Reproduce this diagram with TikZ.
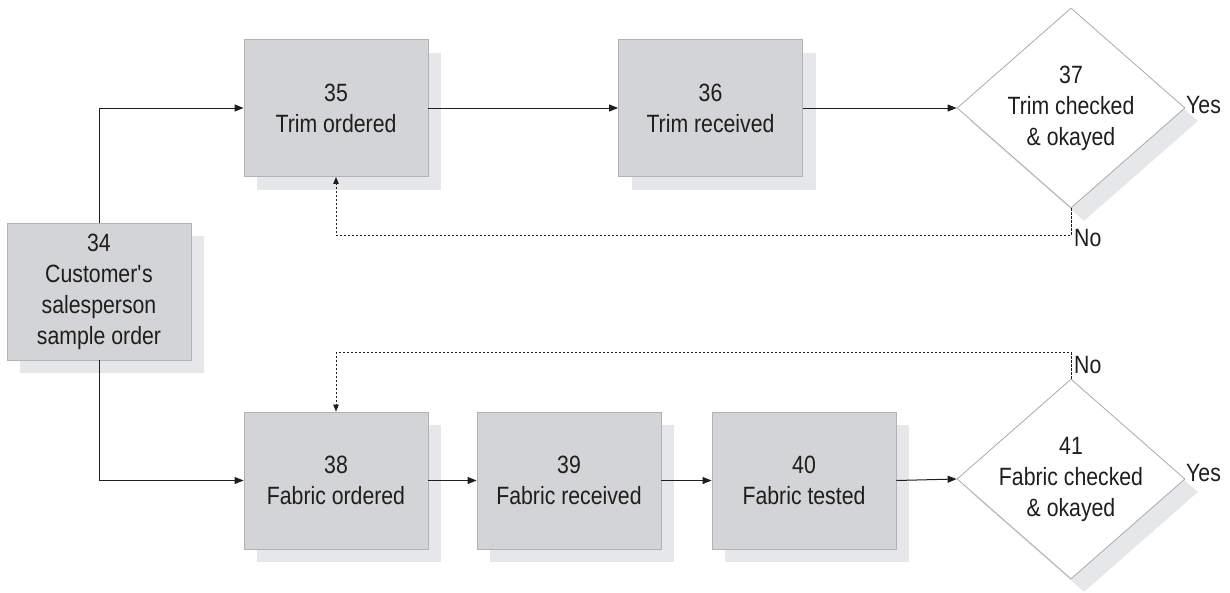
\documentclass[tikz,border=0pt]{standalone}
\usepackage{fontspec}
\setmainfont{Liberation Sans}[FakeStretch=0.85]
\usetikzlibrary{shapes.geometric,shadows,arrows.meta,calc}

\definecolor{boxfill}{RGB}{211,212,214}
\definecolor{boxedge}{RGB}{178,178,180}
\definecolor{shade}{RGB}{230,231,233}
\definecolor{diaedge}{RGB}{170,170,172}
\definecolor{ink}{RGB}{30,30,30}

\tikzset{
  stepbox/.style={rectangle, draw=boxedge, line width=0.9pt, fill=boxfill,
    minimum width=184, minimum height=137, inner sep=0pt, align=center,
    general shadow={fill=shade, shadow xshift=13pt, shadow yshift=-13pt}},
  checkbox/.style={diamond, draw=diaedge, line width=0.8pt, fill=white,
    minimum width=228, minimum height=200, inner sep=0pt,
    general shadow={fill=shade, shadow xshift=13pt, shadow yshift=-13pt}},
  checktext/.style={align=center, inner sep=0pt},
  flow/.style={draw=ink, line width=1pt, -{Triangle[length=9pt,width=7pt]}},
  loopback/.style={draw=ink, line width=0.8pt, dash pattern=on 2.5pt off 1.5pt,
    -{Triangle[length=7pt,width=5.5pt]}},
  tag/.style={inner sep=0pt, anchor=west},
}

\begin{document}
\begin{tikzpicture}[x=1pt, y=-1pt,
  every node/.append style={font=\fontsize{25}{31}\selectfont, text=ink}]
\useasboundingbox (0,0) rectangle (1230,592);

% process steps
\node[stepbox] (n34) at (99,291.5) {34\\Customer\textquotesingle s\\salesperson\\sample order};
\node[stepbox] (n35) at (336,108) {35\\Trim ordered};
\node[stepbox] (n36) at (710.5,108) {36\\Trim received};
\node[stepbox] (n38) at (336,480.5) {38\\Fabric ordered};
\node[stepbox] (n39) at (569,480.5) {39\\Fabric received};
\node[stepbox] (n40) at (804,480.5) {40\\Fabric tested};

% decisions
\node[checkbox] (d37) at (1071,108) {};
\node[checktext] (t37) at (d37.center) {37\\Trim checked\\\& okayed};
\node[checkbox] (d41) at (1071,479) {};
\node[checktext] (t41) at (d41.center) {41\\Fabric checked\\\& okayed};

% forward flow
\draw[flow] (n34.north) |- (n35.west);
\draw[flow] (n34.south) |- (n38.west);
\draw[flow] (n35.east) -- (n36.west);
\draw[flow] (n36.east) -- (d37.west);
\draw[flow] (n38.east) -- (n39.west);
\draw[flow] (n39.east) -- (n40.west);
\draw[flow] (n40.east) -- (d41.west);

% rejection loops
\coordinate (c37) at ($(d37.south)+(0,27)$);
\coordinate (c41) at ($(d41.north)+(0,-26)$);
\draw[loopback] (d37.south) -- (c37) -| (n35.south);
\draw[loopback] (d41.north) -- (c41) -| (n38.north);

% outcome labels
\node[tag] (no37) at (1074,238) {No};
\node[tag] (yes37) at (1186,105) {Yes};
\node[tag] (no41) at (1074,365) {No};
\node[tag] (yes41) at (1186,473) {Yes};
\end{tikzpicture}
\end{document}
